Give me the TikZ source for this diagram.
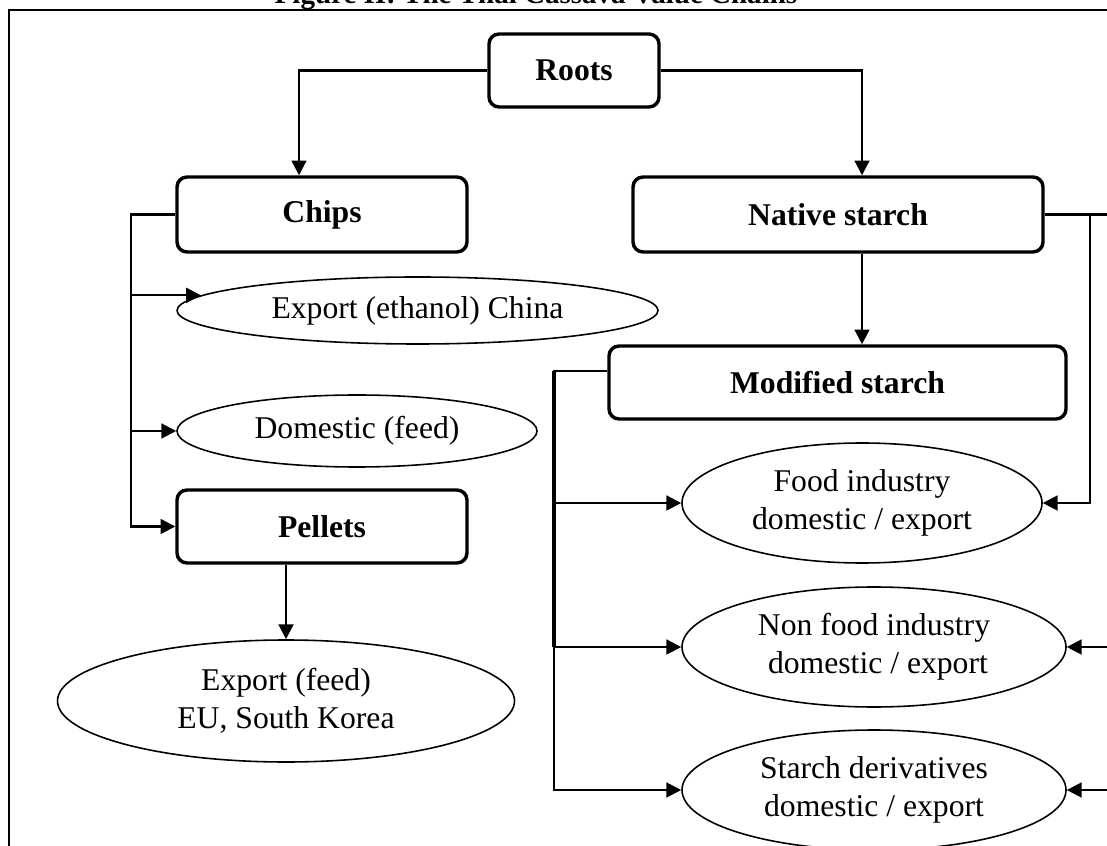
\documentclass[tikz,border=0pt]{standalone}
\usepackage{fontspec}
\setmainfont{Liberation Serif}
\usetikzlibrary{arrows.meta, calc, positioning, shapes.geometric}
\newcommand{\pxu}{0.379pt}

\begin{document}
\begin{tikzpicture}[
      x=0.379pt, y=-0.379pt,
      font=\fontsize{12}{14.4}\selectfont,
      box/.style={draw, line width=1.3pt, rounded corners=3.8pt, fill=white,
                  align=center, inner sep=0pt, font=\fontsize{12}{14.4}\selectfont\bfseries},
      oval/.style={draw, ellipse, line width=0.6pt, fill=white,
                  align=center, inner sep=0pt},
      line/.style={line width=0.85pt},
      arr/.style={line, -{Triangle[length=5.6pt, width=5.6pt]}},
      frame/.style={line width=0.85pt},
      title/.style={anchor=base, font=\fontsize{11}{13}\selectfont\bfseries}]
    \path[use as bounding box, clip] (0,0) rectangle (1107,846);
    \node[title] (title) at (536,4) {Figure II: The Thai Cassava Value Chains};
    \draw[frame] (9,10) rectangle (1160,900);
    \coordinate (chipsbus) at (131,0);
    \coordinate (modbus) at (554,0);
    \coordinate (nativebus) at (1090,0);
    \coordinate (offbus) at (1135,0);
    \node[box, minimum width=170*\pxu, minimum height=73*\pxu] (roots) at (574,70.5) {Roots};
    \node[box, minimum width=290*\pxu, minimum height=75*\pxu] (chips) at (322,214.5) {Chips};
    \node[box, minimum width=410*\pxu, minimum height=75*\pxu] (native) at (838,214.5) {Native starch};
    \node[box, minimum width=457*\pxu, minimum height=73*\pxu] (modified) at (837.5,382.5) {Modified starch};
    \node[box, minimum width=290*\pxu, minimum height=73*\pxu] (pellets) at (322,526.5) {Pellets};
    \node[oval, minimum width=481*\pxu, minimum height=67*\pxu] (ethanol) at (417.5,310.5) {Export (ethanol) China};
    \node[oval, minimum width=360*\pxu, minimum height=72*\pxu] (domestic) at (357,431) {Domestic (feed)};
    \node[oval, minimum width=457*\pxu, minimum height=122*\pxu] (feedexp) at (286,701) {Export (feed)\\EU, South Korea};
    \node[oval, minimum width=360*\pxu, minimum height=120*\pxu] (food) at (862,503) {Food industry\\domestic / export};
    \node[oval, minimum width=384*\pxu, minimum height=120*\pxu] (nonfood) at (874,647) {Non food industry\\\ domestic / export};
    \node[oval, minimum width=384*\pxu, minimum height=120*\pxu] (derivs) at (874,790) {Starch derivatives\\domestic / export};
    \draw[arr] (roots.west) -| ([xshift=-23*\pxu]chips.north);
    \draw[arr] (roots.east) -| ([xshift=24*\pxu]native.north);
    \draw[arr] ([xshift=24*\pxu]native.south) -- ([xshift=24.5*\pxu]modified.north);
    \draw[arr] (chips.west) -| (chipsbus |- pellets.west) -- (pellets.west);
    \draw[arr] (chipsbus |- ethanol.176.8) -- (ethanol.176.8);
    \draw[arr] (chipsbus |- domestic.west) -- (domestic.west);
    \draw[arr] ([xshift=-36*\pxu]pellets.south) -- (feedexp.north);
    \draw[arr] ([yshift=11.5*\pxu]modified.west) -| (modbus |- derivs.west) -- (derivs.west);
    \draw[line, line width=1.3pt] ([yshift=11.5*\pxu]modified.west -| modbus) -- (modbus |- nonfood.west);
    \draw[arr] (modbus |- food.west) -- (food.west);
    \draw[arr] (modbus |- nonfood.west) -- (nonfood.west);
    \draw[arr] (native.east) -| (nativebus |- food.east) -- (food.east);
    \draw[line] (nativebus |- native.east) -- (offbus |- native.east) -- (offbus |- derivs.east);
    \draw[arr] (offbus |- nonfood.east) -- (nonfood.east);
    \draw[arr] (offbus |- derivs.east) -- (derivs.east);
  \end{tikzpicture}
\end{document}
